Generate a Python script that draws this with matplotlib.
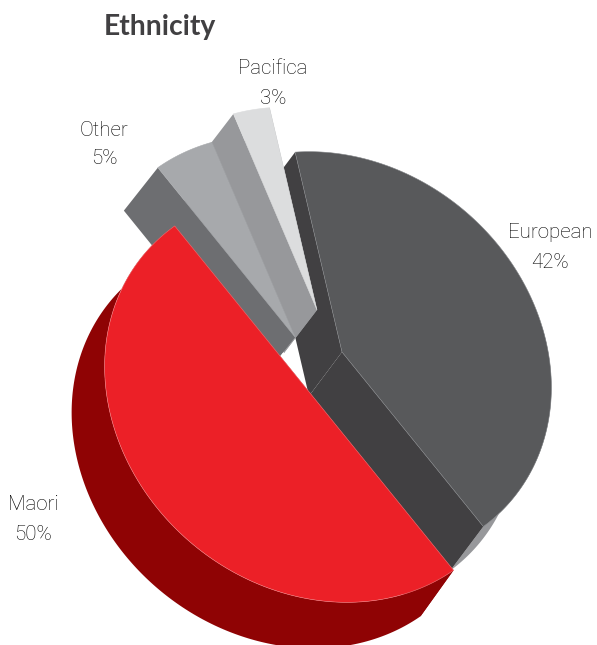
import numpy as np
import matplotlib
matplotlib.use("Agg")
import matplotlib.pyplot as plt
from matplotlib.patches import Polygon

# Ethnicity split, percent
ethnicities = ["European", "Maori", "Other", "Pacifica"]
percents = [42, 50, 5, 3]

top_colors = {"European": "#58595b", "Maori": "#ec2027", "Other": "#a7a9ac", "Pacifica": "#dcddde"}
wall_colors = {"European": "#414042", "Maori": "#8f0304", "Other": "#6d6e71", "Pacifica": "#97989b"}
edge_colors = {"European": "#808285", "Maori": "#f27a7e", "Other": "#a7a9ac", "Pacifica": "#dcddde"}

# exploded position of each slice's tip, in pixels
tips = {"European": (342, 352), "Maori": (310, 393), "Other": (295, 337), "Pacifica": (317, 310)}
label_pos = {"European": (550, 233), "Maori": (33, 505), "Other": (104, 130), "Pacifica": (273, 69)}

# where the rim oval sits relative to the tip (x right, y up)
rim_shift = {"European": (-1.0, -4.5), "Maori": (5.0, -4.5), "Other": (2.0, -3.0), "Pacifica": (0.0, -2.0)}
depths = {"European": np.array([-33.0, 44.0]), "Maori": np.array([-33.0, 46.0]),
          "Other": np.array([-34.0, 43.0]), "Pacifica": np.array([-33.0, 43.0])}

start_angle = 100.2
long_radius = 223.0
short_radius = 191.0
oval_tilt = np.radians(140.0)
squash_axis = 129.0
squash = 3.55

fig = plt.figure(figsize=(5.97, 6.45), dpi=100)
ax = fig.add_axes([0, 0, 1, 1])
ax.set_xlim(0, 597)
ax.set_ylim(645, 0)
ax.axis("off")

# slice angles, clockwise from the start angle
angles = {}
a = start_angle
for name, pct in zip(ethnicities, percents):
    angles[name] = (a, a - pct * 3.6)
    a -= pct * 3.6


def tilted(th):
    # tilting the pie pulls the drawn angles towards the long axis
    return th - squash * np.sin(np.radians(2 * (th - squash_axis)))


def rim_points(name, a1, a2, n=200):
    # cast a ray from the tip at each angle and intersect it with the rim oval
    tip = tips[name]
    th = np.radians(tilted(np.linspace(a1, a2, n)))
    cx, cy = rim_shift[name]
    c, s = np.cos(oval_tilt), np.sin(oval_tilt)
    # ray direction and tip in the oval's own frame
    du = (np.cos(th) * c + np.sin(th) * s) / long_radius
    dv = (-np.cos(th) * s + np.sin(th) * c) / short_radius
    u0 = (-cx * c - cy * s) / long_radius
    v0 = (cx * s - cy * c) / short_radius
    A = du ** 2 + dv ** 2
    B = 2 * (u0 * du + v0 * dv)
    C = u0 ** 2 + v0 ** 2 - 1
    r = (-B + np.sqrt(B ** 2 - 4 * A * C)) / (2 * A)
    return np.column_stack([tip[0] + r * np.cos(th), tip[1] - r * np.sin(th)])


def add_walls(name, rim_span=None, rim_color=None):
    tip = np.array(tips[name])
    depth = depths[name]
    a1, a2 = angles[name]
    if rim_span is not None:
        # outer curved wall
        arc = rim_points(name, rim_span[0], rim_span[1])
        ax.add_patch(Polygon(np.vstack([arc, arc[::-1] + depth]), fc=rim_color, ec="none"))
    for ang in (a1, a2):
        p = rim_points(name, ang, ang, n=1)[0]
        ax.add_patch(Polygon([tip, p, p + depth, tip + depth], fc=wall_colors[name], ec="none"))


def add_top(name):
    tip = np.array(tips[name])
    a1, a2 = angles[name]
    arc = rim_points(name, a1, a2)
    ax.add_patch(Polygon(np.vstack([tip, arc]), fc=top_colors[name], ec=edge_colors[name], lw=0.4))


# back to front
add_walls("European", rim_span=(angles["European"][1], 10), rim_color="#97989b")
add_top("European")
add_walls("Pacifica")
add_top("Pacifica")
add_walls("Other")
add_top("Other")
add_walls("Maori", rim_span=(angles["Maori"][1], angles["Maori"][0]), rim_color=wall_colors["Maori"])
add_top("Maori")

for name, pct in zip(ethnicities, percents):
    x, y = label_pos[name]
    ax.text(x, y, name, ha="center", va="center", fontsize=14.8, family="Roboto", fontweight="light", color="#000000")
    ax.text(x, y + 29, f"{pct}%", ha="center", va="center", fontsize=14.8, family="Roboto", fontweight="light", color="#000000")

ax.text(104, 27, "Ethnicity", ha="left", va="center", fontsize=20.3, family="Lato", fontweight="bold", color="#414042")

fig.savefig("out.png", dpi=100)
